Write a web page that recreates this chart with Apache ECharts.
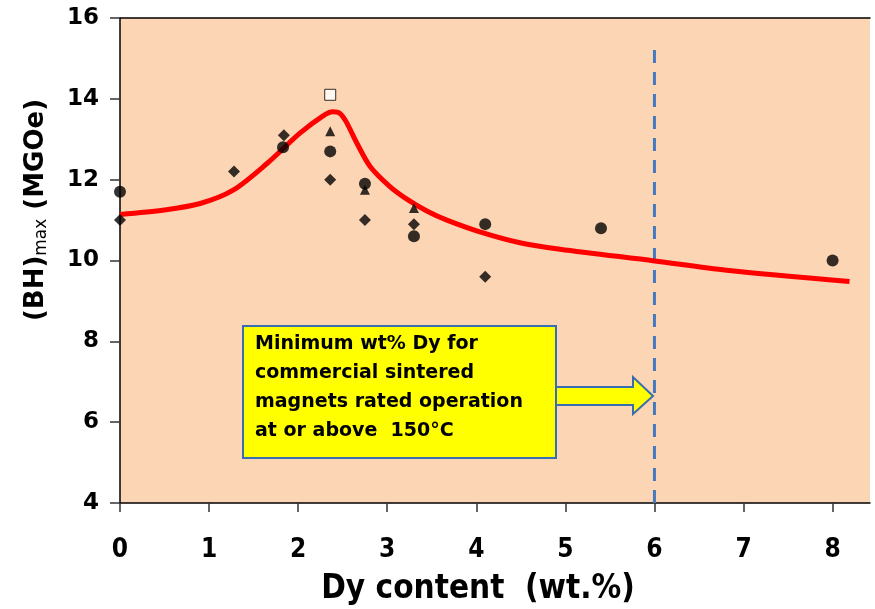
<!DOCTYPE html>
<html>
<head>
<meta charset="utf-8">
<script src="https://cdn.jsdelivr.net/npm/echarts@6/dist/echarts.min.js"></script>
<style>
  html, body { margin: 0; padding: 0; background: #ffffff; }
  #chart { width: 875px; height: 609px; }
</style>
</head>
<body>
<div id="chart"></div>
<script>
// Dy content (wt.%) vs (BH)max (MGOe)
const xTicks = [0, 1, 2, 3, 4, 5, 6, 7, 8];
const yTicks = [4, 6, 8, 10, 12, 14, 16];

// Measured samples, by marker type
const circlePts = [[0, 11.7], [1.83, 12.8], [2.36, 12.7], [2.75, 11.9], [3.30, 10.6], [4.10, 10.9], [5.40, 10.8], [8.0, 10.0]];
const diamondPts = [[0, 11.0], [1.28, 12.2], [1.84, 13.1], [2.36, 12.0], [2.75, 11.0], [3.30, 10.9], [4.10, 9.6]];
const trianglePts = [[2.36, 13.2], [2.75, 11.75], [3.30, 11.3]];
const squarePts = [[2.36, 14.1]];

// Trend curve through the data
const trendPts = [
  [0, 11.14], [0.5, 11.25], [0.9, 11.41], [1.27, 11.74], [1.65, 12.40],
  [2.02, 13.15], [2.28, 13.58], [2.39, 13.68], [2.47, 13.64],
  [2.54, 13.43], [2.66, 12.90], [2.81, 12.32], [3.03, 11.83], [3.22, 11.52],
  [3.45, 11.22], [3.67, 11.0], [4.04, 10.71], [4.49, 10.44], [4.94, 10.28],
  [6.0, 9.99], [6.81, 9.76], [8.19, 9.48]
];

// Minimum Dy threshold for 150°C rated magnets
const thresholdX = 6;
const thresholdLine = [[thresholdX, 4], [thresholdX, 15.33]];

const noteLines = [
  'Minimum wt% Dy for',
  'commercial sintered',
  'magnets rated operation',
  'at or above  150°C'
];

const chart = echarts.init(document.getElementById('chart'), null, { renderer: 'canvas' });

const markerBase = { type: 'scatter', z: 5, itemStyle: { color: '#000000' } };

chart.setOption({
  animation: false,
  backgroundColor: '#ffffff',
  grid: {
    left: 120, top: 18, right: 5, bottom: 106,
    outerBoundsMode: 'none', containLabel: false,
    show: true, backgroundColor: '#FCD5B4', borderWidth: 0
  },
  xAxis: [{
    type: 'value', min: 0, max: 8.42, interval: 1,
    name: 'Dy content  (wt.%)',
    nameLocation: 'middle', nameGap: 70,
    nameTextStyle: { fontFamily: 'DejaVu Sans Condensed', fontWeight: 'bold', fontSize: 33, color: '#000', padding: [0, 34, 0, 0] },
    axisLine: { lineStyle: { color: '#000', width: 1.5 } },
    axisTick: { show: true, inside: false, length: 9, lineStyle: { color: '#333', width: 1.5 }, customValues: xTicks },
    axisLabel: {
      customValues: xTicks, margin: 34,
      fontFamily: 'DejaVu Sans Condensed', fontWeight: 'bold', fontSize: 26, color: '#000'
    },
    splitLine: { show: false }
  }, {
    type: 'value', position: 'top', min: 0, max: 8.42,
    axisLine: { show: true, lineStyle: { color: '#000', width: 1.5 } },
    axisTick: { show: false }, axisLabel: { show: false }, splitLine: { show: false }
  }],
  yAxis: {
    type: 'value', min: 4, max: 16, interval: 2,
    axisLine: { show: true, lineStyle: { color: '#000', width: 1.5 } },
    axisTick: { show: true, inside: false, length: 10, lineStyle: { color: '#333', width: 1.5 } },
    axisLabel: {
      margin: 21, fontFamily: 'DejaVu Sans', fontWeight: 'bold', fontSize: 23, color: '#000',
      customValues: yTicks
    },
    splitLine: { show: false }
  },
  series: [
    {
      type: 'line', data: trendPts, smooth: 0.3, showSymbol: false, z: 3,
      lineStyle: { color: '#FF0000', width: 5 }
    },
    {
      type: 'line', data: thresholdLine, showSymbol: false, z: 2,
      lineStyle: { color: '#4479C0', width: 3, type: [13, 9] }
    },
    Object.assign({}, markerBase, { data: circlePts, symbol: 'circle', symbolSize: 12 }),
    Object.assign({}, markerBase, { data: diamondPts, symbol: 'diamond', symbolSize: 12 }),
    Object.assign({}, markerBase, { data: trianglePts, symbol: 'triangle', symbolSize: 10 }),
    {
      type: 'scatter', z: 5, data: squarePts, symbol: 'rect', symbolSize: 11,
      itemStyle: { color: '#ffffff', borderColor: '#000', borderWidth: 1 }
    }
  ],
  graphic: [
    {
      // y-axis title, rotated, with subscript
      type: 'text', z: 10, x: 36, y: 210, rotation: Math.PI / 2,
      style: {
        text: '(BH){sub|max} (MGOe)',
        align: 'center', verticalAlign: 'middle',
        fontFamily: 'DejaVu Sans', fontWeight: 'bold', fontSize: 26, fill: '#000',
        rich: {
          sub: { fontFamily: 'DejaVu Sans', fontWeight: 'normal', fontSize: 17, fill: '#000', padding: [12, 0, 0, 0] }
        }
      }
    },
    {
      type: 'polygon', z: 10,
      shape: { points: [[556, 387], [633, 387], [633, 377], [653, 396], [633, 414], [633, 405], [556, 405]] },
      style: { fill: '#FFFF00', stroke: '#3A6DB0', lineWidth: 2 }
    },
    {
      type: 'rect', z: 11,
      shape: { x: 243, y: 326, width: 313, height: 132 },
      style: { fill: '#FFFF00', stroke: '#3A6DB0', lineWidth: 2 }
    },
    {
      type: 'text', z: 12, left: 255, top: 330,
      style: {
        text: noteLines.join('\n'),
        fontFamily: 'DejaVu Sans', fontWeight: 'bold', fontSize: 19, lineHeight: 29,
        fill: '#000'
      }
    }
  ]
});
</script>
</body>
</html>
